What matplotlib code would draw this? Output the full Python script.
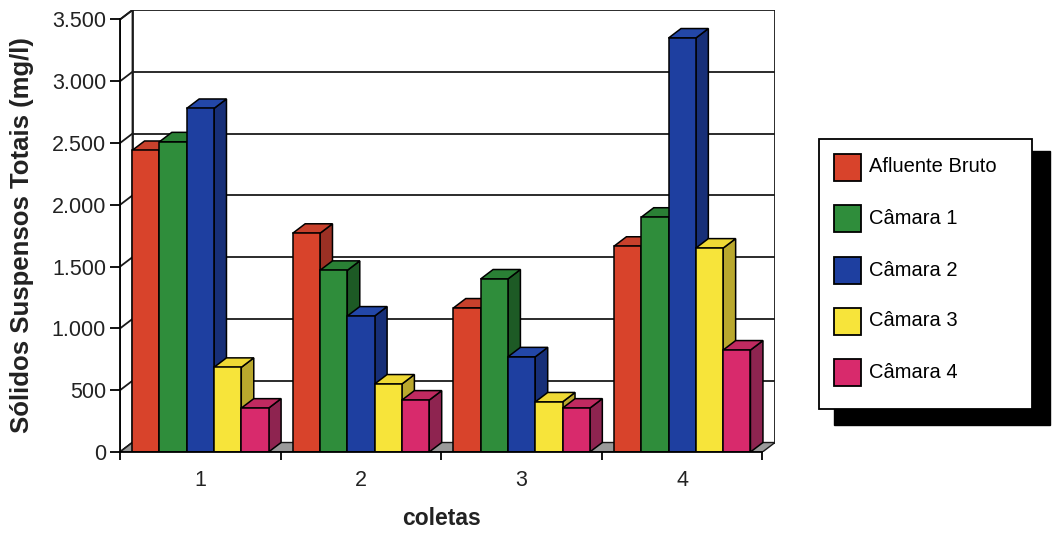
import numpy as np
import matplotlib.pyplot as plt
from matplotlib.patches import Polygon, Rectangle

plt.rcParams['font.family'] = ['Liberation Sans', 'DejaVu Sans']

# solidos suspensos totais (mg/l) por coleta
coletas = ['1', '2', '3', '4']
series = ['Afluente Bruto', 'Câmara 1', 'Câmara 2', 'Câmara 3', 'Câmara 4']
afluente = [2440, 1770, 1165, 1665]
camara1 = [2510, 1470, 1400, 1900]
camara2 = [2780, 1100, 770, 3350]
camara3 = [685, 550, 405, 1650]
camara4 = [355, 420, 355, 825]
yticks = [0, 500, 1000, 1500, 2000, 2500, 3000, 3500]

valores = [afluente, camara1, camara2, camara3, camara4]

# front / top / side shades for the fake 3d columns
front = ['#d8432b', '#2f8d3b', '#1e3fa0', '#f7e43a', '#d82a6c']
top = ['#c8412c', '#2a8035', '#2347a8', '#efd935', '#c02a60']
side = ['#9b3024', '#1d5a25', '#172f78', '#b9a82d', '#8e2450']

W, H = 1052, 534
ymax = 3500
bw = 0.17          # column width (category units)
dx = 12.5 / 160.6  # depth offset in x
dy = 9.5 / (433 / 3500)  # depth offset in y

fig = plt.figure(figsize=(W / 100, H / 100), dpi=100)
ax = fig.add_axes([120 / W, (H - 452) / H, 655 / W, 442 / H])
ax.set_xlim(0.5, len(coletas) + 0.5 + dx)
ax.set_ylim(0, ymax + dy)

x0, x1 = 0.5, len(coletas) + 0.5
line = '#1a1a1a'

# floor
ax.add_patch(Polygon([(x0, 0), (x1, 0), (x1 + dx, dy), (x0 + dx, dy)],
                     closed=True, facecolor='#9a9a9a', edgecolor=line, lw=1, zorder=1))
# left wall
ax.add_patch(Polygon([(x0, 0), (x0, ymax), (x0 + dx, ymax + dy), (x0 + dx, dy)],
                     closed=True, facecolor='white', edgecolor=line, lw=1.3, zorder=0.5))
# back wall
ax.add_patch(Rectangle((x0 + dx, dy), x1 - x0, ymax, facecolor='white',
                       edgecolor=line, lw=1.3, zorder=0.5))
# gridlines on back and left wall
for v in yticks[1:-1]:
    ax.plot([x0 + dx, x1 + dx], [v + dy, v + dy], color=line, lw=1.3, zorder=0.8)
for v in yticks:
    ax.plot([x0, x0 + dx], [v, v + dy], color=line, lw=1.3, zorder=0.8)

# columns, left to right so each front face hides the neighbour's side
z = 2
for i in range(len(coletas)):
    for j, vals in enumerate(valores):
        v = vals[i]
        left = (i + 1) - 2.5 * bw + j * bw
        ax.add_patch(Polygon([(left + bw, 0), (left + bw, v), (left + bw + dx, v + dy),
                              (left + bw + dx, dy)], closed=True, facecolor=side[j],
                             edgecolor='black', lw=1.1, zorder=z))
        ax.add_patch(Polygon([(left, v), (left + dx, v + dy), (left + bw + dx, v + dy),
                              (left + bw, v)], closed=True, facecolor=top[j],
                             edgecolor='black', lw=1.1, zorder=z))
        ax.bar(left, v, width=bw, align='edge', color=front[j], edgecolor='black',
               lw=1.1, zorder=z + 0.5)
        z += 1

# axes
for s in ['top', 'right']:
    ax.spines[s].set_visible(False)
ax.spines['left'].set_bounds(0, ymax)
ax.spines['bottom'].set_bounds(x0, x1)
ax.spines['left'].set_linewidth(1.3)
ax.spines['bottom'].set_linewidth(1.3)
ax.spines['left'].set_zorder(50)
ax.spines['bottom'].set_zorder(50)

ax.set_yticks(yticks)
ax.set_yticklabels([f'{v:,}'.replace(',', '.') for v in yticks])
ax.tick_params(axis='y', direction='out', length=7, width=1.3, labelsize=15.5, pad=3,
               labelcolor='#222222')

ax.set_xticks(np.arange(len(coletas) + 1) + 0.5)
ax.set_xticklabels([])
ax.set_xticks(np.arange(1, len(coletas) + 1), minor=True)
ax.set_xticklabels(coletas, minor=True)
ax.tick_params(axis='x', which='major', direction='out', length=6, width=1.3)
ax.tick_params(axis='x', which='minor', length=0, labelsize=15.5, pad=13,
               labelcolor='#222222')

ax.set_ylabel('Sólidos Suspensos Totais (mg/l)', fontsize=18.5, fontweight='bold',
              color='#222222')
ax.yaxis.set_label_coords(-0.131, 0.49)
ax.set_xlabel('coletas', fontsize=16.5, fontweight='bold', color='#222222')
ax.xaxis.set_label_coords(0.4916, -0.125)


# legend box with black drop shadow
def fr(x, y, w, h):
    return (x / W, 1 - (y + h) / H), w / W, h / H


xy, w, h = fr(834, 151, 216, 274)
fig.add_artist(Rectangle(xy, w, h, transform=fig.transFigure, facecolor='black',
                         edgecolor='black', zorder=1))
xy, w, h = fr(819, 139, 213, 270)
fig.add_artist(Rectangle(xy, w, h, transform=fig.transFigure, facecolor='white',
                         edgecolor='black', lw=1.3, zorder=2))
rows = [167, 218, 270, 321, 372]
for j, name in enumerate(series):
    xy, w, h = fr(834, rows[j] - 13.5, 27, 27)
    fig.add_artist(Rectangle(xy, w, h, transform=fig.transFigure, facecolor=front[j],
                             edgecolor='black', lw=1.3, zorder=3))
    fig.text(869 / W, 1 - rows[j] / H, name, fontsize=14.5, va='center', ha='left',
             zorder=3)

fig.savefig('out.png', dpi=100)
